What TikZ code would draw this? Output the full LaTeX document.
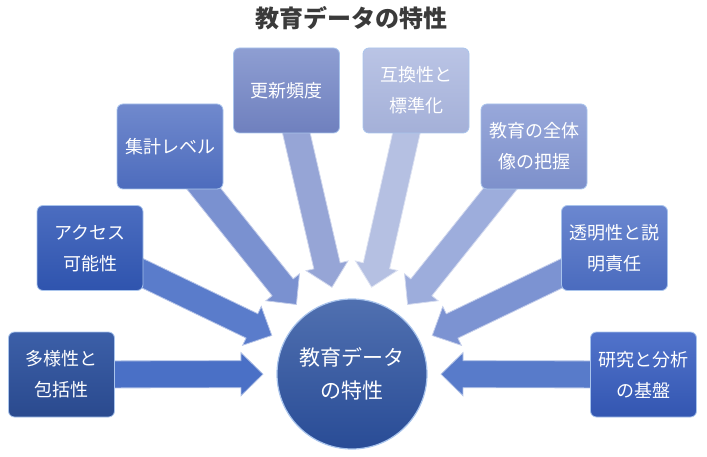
\documentclass[tikz,border=0pt]{standalone}
\usepackage{fontspec}
\setmainfont{Noto Sans CJK JP}
\usetikzlibrary{calc,backgrounds}
\definecolor{tb1}{HTML}{3C5FA8}\definecolor{bb1}{HTML}{2A4A8E}\definecolor{ar1}{HTML}{4A70C6}
\definecolor{tb2}{HTML}{4B6DC0}\definecolor{bb2}{HTML}{2F54AE}\definecolor{ar2}{HTML}{5A7CCB}
\definecolor{tb3}{HTML}{7089CD}\definecolor{bb3}{HTML}{4D6CBD}\definecolor{ar3}{HTML}{7A91D0}
\definecolor{tb4}{HTML}{8E9ED2}\definecolor{bb4}{HTML}{6F80BE}\definecolor{ar4}{HTML}{96A5D6}
\definecolor{tb5}{HTML}{BAC4E5}\definecolor{bb5}{HTML}{A4B0D8}\definecolor{ar5}{HTML}{B5C0E2}
\definecolor{tb6}{HTML}{98A8DA}\definecolor{bb6}{HTML}{7D90CB}\definecolor{ar6}{HTML}{9DADDC}
\definecolor{tb7}{HTML}{6B87D0}\definecolor{bb7}{HTML}{4A6BBE}\definecolor{ar7}{HTML}{7C93D2}
\definecolor{tb8}{HTML}{5173CB}\definecolor{bb8}{HTML}{3356B1}\definecolor{ar8}{HTML}{587BCA}
\definecolor{cirtop}{HTML}{5070B0}\definecolor{cirbot}{HTML}{294C96}
\definecolor{edge}{HTML}{A9C4EC}
\definecolor{titlegray}{HTML}{3A3A3A}
\newcommand\blockarrow[3]{% #1 from node, #2 to node, #3 colour
  \coordinate (#1tip) at ($(#2)!89pt!(#1)$);
  \pgfpointdiff{\pgfpointanchor{#1}{center}}{\pgfpointanchor{#1tip}{center}}%
  \pgfgetlastxy{\ArDx}{\ArDy}%
  \pgfmathsetmacro\ArAng{atan2(\ArDy,\ArDx)}%
  \pgfmathsetmacro\ArLen{veclen(\ArDx,\ArDy)}%
  \begin{scope}[shift={(#1.center)}, rotate=\ArAng]
    \path[blockar, fill=#3, draw=#3!45!white] (0,-13.5pt) -- ({\ArLen pt-22pt},-13.5pt) -- ({\ArLen pt-22pt},-21.5pt) -- ({\ArLen pt},0) -- ({\ArLen pt-22pt},21.5pt) -- ({\ArLen pt-22pt},13.5pt) -- (0,13.5pt) -- cycle;
  \end{scope}
}
\tikzset{
  box/.style={rounded corners=6pt, minimum width=106pt, minimum height=85pt, inner sep=0pt,
    draw=edge, line width=0.8pt, text=white, font=\fontsize{18pt}{31pt}\selectfont, align=center},
  hub/.style={circle, minimum size=150pt, inner sep=0pt, top color=cirtop, bottom color=cirbot,
    draw=edge, line width=1.2pt, text=white, font=\fontsize{21pt}{33pt}\selectfont, align=center},
  blockar/.style={line width=0.8pt, line join=miter},
}
\begin{document}
\begin{tikzpicture}[x=1pt,y=1pt]
\useasboundingbox (0,0) rectangle (707,456);
\node[font=\fontsize{24pt}{28pt}\selectfont\bfseries, text=titlegray] (title) at (351.5,438) {教育データの特性};
\node[hub] (cc) at (352,82) {教育データ\\の特性};
\node[box, top color=tb1, bottom color=bb1] (b1) at (61.5,81.5) {多様性と\\包括性};
\node[box, top color=tb2, bottom color=bb2] (b2) at (90,208) {アクセス\\可能性};
\node[box, top color=tb3, bottom color=bb3] (b3) at (170,309.5) {集計レベル};
\node[box, top color=tb4, bottom color=bb4] (b4) at (286.5,365.5) {更新頻度};
\node[box, top color=tb5, bottom color=bb5] (b5) at (416,365.5) {互換性と\\標準化};
\node[box, top color=tb6, bottom color=bb6] (b6) at (534,309.5) {教育の全体\\像の把握};
\node[box, top color=tb7, bottom color=bb7] (b7) at (614.5,208) {透明性と説\\明責任};
\node[box, top color=tb8, bottom color=bb8] (b8) at (643.5,81.5) {研究と分析\\の基盤};
\begin{scope}[on background layer]
\blockarrow{b1}{cc}{ar1}
\blockarrow{b2}{cc}{ar2}
\blockarrow{b3}{cc}{ar3}
\blockarrow{b4}{cc}{ar4}
\blockarrow{b5}{cc}{ar5}
\blockarrow{b6}{cc}{ar6}
\blockarrow{b7}{cc}{ar7}
\blockarrow{b8}{cc}{ar8}
\end{scope}
\end{tikzpicture}
\end{document}
